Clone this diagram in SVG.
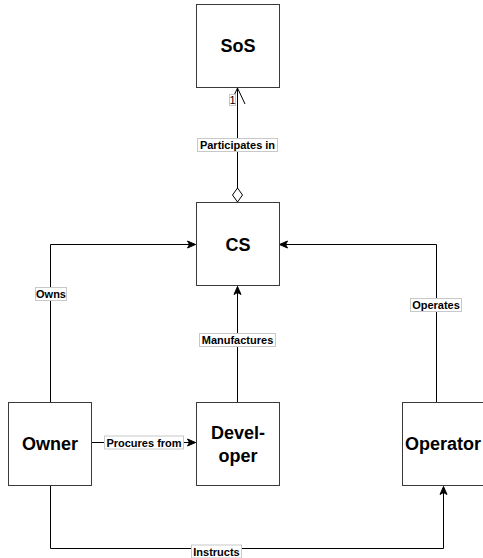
<svg xmlns="http://www.w3.org/2000/svg" width="483" height="558" viewBox="0 0 483 558">
  <style>
    .box { fill: #ffffff; stroke: #3a3a3a; stroke-width: 1; }
    .name { font-family: "Liberation Sans", Arial, Helvetica, sans-serif; font-size: 18px; font-weight: bold; fill: #000; text-anchor: middle; dominant-baseline: central; }
    .edge { fill: none; stroke: #000; stroke-width: 1; }
    .lblbg { fill: #ffffff; stroke: #c8c8c8; stroke-width: 1; }
    .lbl { font-family: "Liberation Sans", Arial, Helvetica, sans-serif; font-size: 11px; font-weight: bold; fill: #000; text-anchor: middle; dominant-baseline: central; }
    .mult { font-family: "Liberation Sans", Arial, Helvetica, sans-serif; font-size: 11px; fill: #000; text-anchor: middle; dominant-baseline: central; }
  </style>
  <defs>
    <marker id="arrow" markerUnits="userSpaceOnUse" markerWidth="10" markerHeight="10" viewBox="0 0 10 10" refX="9" refY="5" orient="auto">
      <path d="M1,1.5 L9,5 L1,8.5 L3,5 Z" fill="#000" stroke="#000" stroke-width="1" stroke-linejoin="miter"/>
    </marker>
    <marker id="open" markerUnits="userSpaceOnUse" markerWidth="18" markerHeight="18" viewBox="0 0 18 18" refX="17" refY="9" orient="auto">
      <path d="M1,1.5 L17,9 L1,16.5" fill="none" stroke="#000" stroke-width="1"/>
    </marker>
    <marker id="diamond" markerUnits="userSpaceOnUse" markerWidth="16" markerHeight="12" viewBox="0 0 16 12" refX="0.5" refY="6" orient="auto">
      <path d="M0.5,6 L7.5,1 L14.5,6 L7.5,11 Z" fill="#fff" stroke="#000" stroke-width="1"/>
    </marker>
  </defs>

  <!-- connectors -->
  <g id="edges">
    <path class="edge" d="M237.5,202 L237.5,88" marker-start="url(#diamond)" marker-end="url(#open)"/>
    <path class="edge" d="M50.5,402 L50.5,244.5 L195.5,244.5" marker-end="url(#arrow)"/>
    <path class="edge" d="M436.5,402 L436.5,244.5 L279.5,244.5" marker-end="url(#arrow)"/>
    <path class="edge" d="M237.5,402 L237.5,286.5" marker-end="url(#arrow)"/>
    <path class="edge" d="M91.5,442.5 L195.5,442.5" marker-end="url(#arrow)"/>
    <path class="edge" d="M50.5,486 L50.5,548.5 L443.5,548.5 L443.5,486.5" marker-end="url(#arrow)"/>

    <g id="edge-labels">
      <rect class="lblbg" x="197.5" y="138.5" width="80" height="13"/>
      <text class="lbl" x="237.5" y="145">Participates in</text>
      <rect class="lblbg" x="229.5" y="94.5" width="6" height="11"/>
      <text class="mult" x="232.5" y="100">1</text>
      <text class="mult" x="248" y="216.5">0..n</text>
      <rect class="lblbg" x="35.5" y="287.5" width="31" height="13"/>
      <text class="lbl" x="51" y="294">Owns</text>
      <rect class="lblbg" x="410.5" y="298.5" width="51" height="13"/>
      <text class="lbl" x="436" y="305">Operates</text>
      <rect class="lblbg" x="199.5" y="333.5" width="76" height="13"/>
      <text class="lbl" x="237.5" y="340">Manufactures</text>
      <rect class="lblbg" x="104.5" y="436" width="79" height="13"/>
      <text class="lbl" x="144" y="442.5">Procures from</text>
      <rect class="lblbg" x="191.5" y="545" width="50" height="13"/>
      <text class="lbl" x="216.5" y="551.5">Instructs</text>
    </g>
  </g>

  <!-- nodes -->
  <g id="sos">
    <rect class="box" x="196.5" y="4.5" width="83" height="83"/>
    <text class="name" x="238" y="46">SoS</text>
  </g>
  <g id="cs">
    <rect class="box" x="196.5" y="202.5" width="83" height="83"/>
    <text class="name" x="238" y="245">CS</text>
  </g>
  <g id="owner">
    <rect class="box" x="8.5" y="402.5" width="83" height="83"/>
    <text class="name" x="50" y="444">Owner</text>
  </g>
  <g id="developer">
    <rect class="box" x="196.5" y="402.5" width="83" height="83"/>
    <text class="name" x="238" y="433">Devel-</text>
    <text class="name" x="238" y="456">oper</text>
  </g>
  <g id="operator">
    <rect class="box" x="402.5" y="402.5" width="83" height="83"/>
    <text class="name" x="443" y="444">Operator</text>
  </g>
</svg>
